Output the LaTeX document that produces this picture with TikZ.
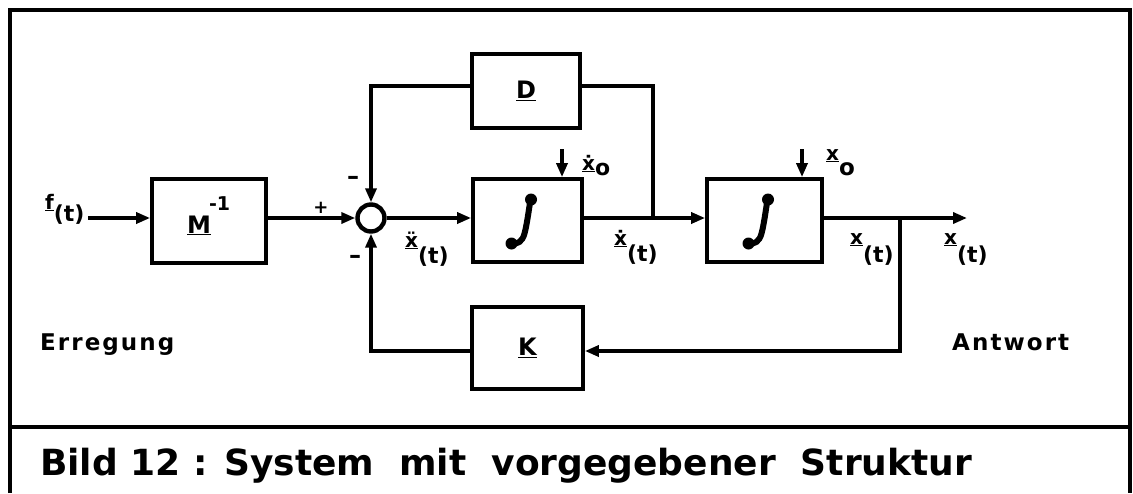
\documentclass[tikz,border=0pt]{standalone}
\usepackage{fontspec}
\setmainfont{DejaVu Sans}
\usetikzlibrary{arrows.meta}
\newcommand{\fs}[1]{\fontsize{#1}{#1}\selectfont\bfseries}
\newcommand{\sigx}[3]{\underline{#2}\raisebox{-#1pt}{\fs{22}#3}}
\tikzset{
  blk/.style={draw,line width=3.8pt,inner sep=0pt,font=\fs{24}},
  lab/.style={inner sep=0pt,font=\fs{20}},
  sgn/.style={inner sep=0pt,font=\fs{24}},
  wire/.style={line width=3.4pt},
  integ/.pic={
    \draw[line width=6pt,line cap=round] (3,-21) .. controls (1,-8) and (-1,6) .. (-3,13) .. controls (-5,21) and (-10,24) .. (-16,23);
    \fill (3.5,-21) circle (6pt);
    \fill (-16,23) circle (6pt);
  }
}
\begin{document}
\begin{tikzpicture}[x=1pt,y=-1pt,>={Triangle[length=14pt,width=11pt]}]
\useasboundingbox (0,0) rectangle (1133,493);
% frame
\draw[line width=3.8pt] (10,493) -- (10,10) -- (1130,10) -- (1130,493);
\draw[line width=3.8pt] (10,427) -- (1130,427);

% blocks
\node[blk,minimum width=114pt,minimum height=84pt] (M) at (209,221) {};
\node[inner sep=0pt,font=\fs{24},anchor=base west] (Mlab) at (187,233) {\underline{M}\hspace{-2pt}\raisebox{0.95em}{\fs{19}-1}};
\node[blk,minimum width=108pt,minimum height=74pt] (D) at (526,91) {\underline{D}};
\node[blk,minimum width=109pt,minimum height=83pt] (I1) at (527.5,220.5) {};
\node[blk,minimum width=115pt,minimum height=83pt] (I2) at (764.5,220.5) {};
\node[blk,minimum width=111pt,minimum height=82pt] (K) at (527.5,348) {\underline{K}};
\pic at (I1.center) {integ};
\pic at (I2.center) {integ};

% summing junction
\node[draw,circle,line width=4.4pt,minimum size=27pt,inner sep=0pt] (S) at (371,218) {};

% coordinates
\coordinate (fin) at (88,218);
\coordinate (b1) at (653,218);
\coordinate (b2) at (900,218);
\coordinate (out) at (967,218);
\coordinate (dr) at (653,86);
\coordinate (dl) at (371,86);
\coordinate (kr) at (900,351);
\coordinate (kl) at (371,351);
\coordinate (a1) at (562,149);
\coordinate (a2) at (802,149);

% wires
\draw[wire,->] (fin) -- (fin -| M.west);
\draw[wire,->] (M.east |- S) -- (S.west);
\draw[wire,->] (S.east) -- (S -| I1.west);
\draw[wire,->] (I1.east |- b1) -- (b1) -- (b1 -| I2.west);
\draw[wire] (b1) -- (dr) -- (dr -| D.east);
\draw[wire,->] (dl -| D.west) -- (dl) -- (S.north);
\draw[wire,->] (I2.east |- b2) -- (out);
\draw[wire,->] (b2) -- (kr) -- (kr -| K.east);
\draw[wire,->] (kl -| K.west) -- (kl) -- (S.south);
\draw[wire,->] (a1) -- (a1 |- I1.north);
\draw[wire,->] (a2) -- (a2 |- I2.north);

% signs
\node[sgn,font=\fs{18}] (plus) at (321,208) {+};
\node[sgn] (m1) at (353,180) {\char"2013};
\node[sgn] (m2) at (355,259) {\char"2013};

% signal labels
\node[lab,anchor=base west] (lf) at (45,209) {\sigx{12}{f}{(t)}};
\node[lab,anchor=base west] (lxdd) at (405,247) {\sigx{16}{\"x}{(t)}};
\node[lab,anchor=base west] (lxd) at (614,245) {\sigx{16}{\.x}{(t)}};
\node[lab,anchor=base west] (lx1) at (850,244) {\sigx{18}{x}{(t)}};
\node[lab,anchor=base west] (lx2) at (944,244) {\sigx{18}{x}{(t)}};
\node[lab,anchor=base west] (lx0d) at (582,170) {\underline{\.x}\raisebox{-5pt}{\fs{22}o}};
\node[lab,anchor=base west] (lx0) at (826,160) {\underline{x}\raisebox{-15pt}{\fs{23}o}};

% side texts
\node[lab,anchor=base west,font=\fs{23}\addfontfeature{LetterSpace=9}] (err) at (40,350) {Erregung};
\node[lab,anchor=base west,font=\fs{23}\addfontfeature{LetterSpace=9}] (ant) at (952,350) {Antwort};

% caption
\node[inner sep=0pt,anchor=base west,font=\fs{36}] (cap) at (40,475) {Bild 12 : System\ \ mit\ \ vorgegebener\ \ Struktur};
\end{tikzpicture}
\end{document}
